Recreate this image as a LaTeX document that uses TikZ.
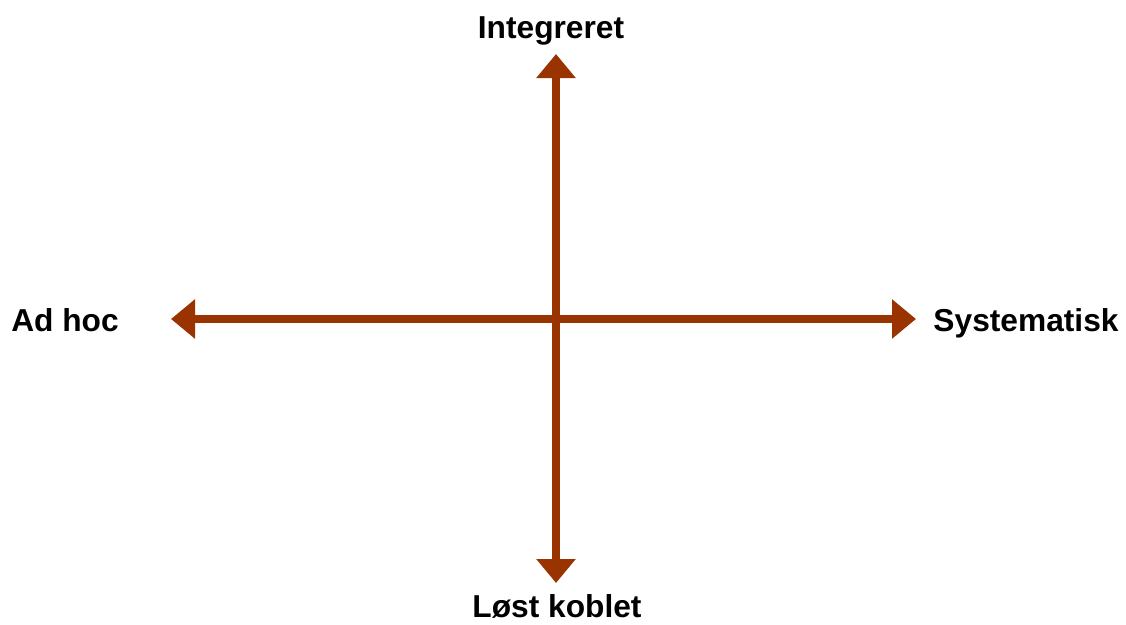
\documentclass[tikz,border=0pt]{standalone}
\usepackage{fontspec}
\setmainfont{Liberation Sans}
\usetikzlibrary{arrows.meta}
\definecolor{axisbrown}{HTML}{993300}
\tikzset{
  axis/.style={draw=axisbrown, line width=8pt,
    {Triangle[width=38pt,length=24pt]}-{Triangle[width=38pt,length=24pt]}},
  lbl/.style={font=\fontsize{31.7}{36}\selectfont\bfseries, inner sep=0pt, anchor=base}
}
\begin{document}
\begin{tikzpicture}[x=1pt,y=-1pt]
  \useasboundingbox (0,0) rectangle (1126,624);
  % axis end points
  \coordinate (top) at (556,54);
  \coordinate (bottom) at (556,583);
  \coordinate (left) at (171,319);
  \coordinate (right) at (916,319);
  % axes
  \draw[axis] (left) -- (right);
  \draw[axis] (bottom) -- (top);
  % labels (placed by their baselines)
  \node[lbl] (tl) at (551,38) {Integreret};
  \node[lbl] (bl) at (557,617) {Løst koblet};
  \node[lbl] (ll) at (65,331) {Ad hoc};
  \node[lbl] (rl) at (1026,331) {Systematisk};
\end{tikzpicture}
\end{document}
